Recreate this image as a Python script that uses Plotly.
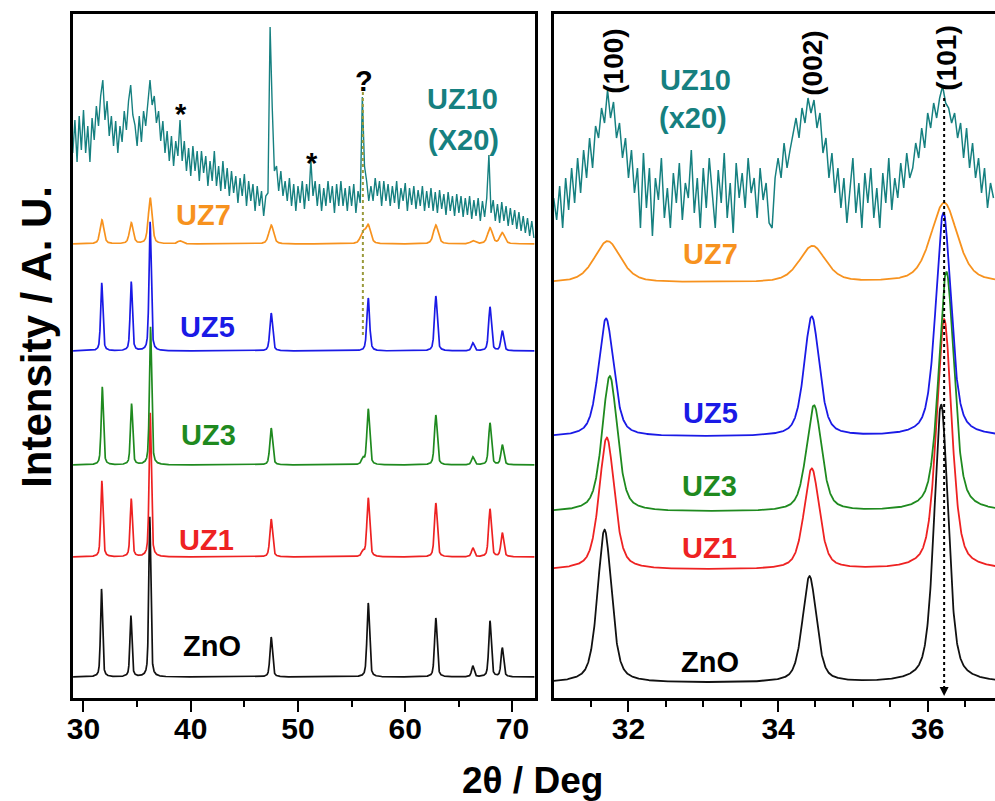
import numpy as np
import plotly.graph_objects as go

# ---------------- data ----------------
samples = ["ZnO", "UZ1", "UZ3", "UZ5", "UZ7"]
colors = {"ZnO": "#111111", "UZ1": "#ee2222", "UZ3": "#1f8a1f", "UZ5": "#1a1ae6",
          "UZ7": "#f7921e", "UZ10": "#168080"}

# main three reflections (100), (002), (101): positions per sample
pos_main = {
    "ZnO": [31.68, 34.42, 36.18],
    "UZ1": [31.71, 34.45, 36.22],
    "UZ3": [31.75, 34.48, 36.25],
    "UZ5": [31.70, 34.45, 36.21],
    "UZ7": [31.72, 34.46, 36.22],
}
# higher-angle reflections (102), (110), (103), (200), (112), (201)
pos_high = [47.50, 56.55, 62.85, 66.30, 67.90, 69.05]

# intensities (a.u.), main then high-angle
int_main = {
    "ZnO": [88, 61, 160],
    "UZ1": [76, 58, 144],
    "UZ3": [78, 61, 138],
    "UZ5": [68, 69, 129],
    "UZ7": [24, 21, 46],
}
int_high = {
    "ZnO": [40, 74, 59, 11, 56, 29],
    "UZ1": [38, 59, 54, 9, 48, 24],
    "UZ3": [37, 56, 50, 8, 42, 20],
    "UZ5": [38, 53, 55, 8, 44, 20],
    "UZ7": [19, 18, 19, 3, 16, 11],
}
# extra weak reflections: (position, intensity)
extra = {
    "ZnO": [],
    "UZ1": [(56.05, 5)],
    "UZ3": [(56.05, 6)],
    "UZ5": [],
    "UZ7": [(56.05, 11), (39.0, 3)],
}
fwhm = {"ZnO": 0.22, "UZ1": 0.24, "UZ3": 0.24, "UZ5": 0.24, "UZ7": 0.42}

# vertical offsets of each pattern
offset_left = {"ZnO": 21, "UZ1": 141, "UZ3": 233, "UZ5": 347, "UZ7": 454}
offset_right = {"ZnO": 15, "UZ1": 128, "UZ3": 186, "UZ5": 261, "UZ7": 415}
right_scale = 1.74

# UZ10 (x20) raw trace, wide range: 29.0 .. 72.0, step 0.2
uz10_wide_start, uz10_wide_step = 29.0, 0.2
uz10_wide = [
    545, 578, 536, 582, 548, 588, 545, 572, 536, 580,
    558, 592, 572, 602, 618, 578, 597, 562, 582, 552,
    577, 545, 572, 556, 587, 568, 597, 613, 583, 573,
    552, 582, 556, 587, 572, 592, 618, 593, 602, 575,
    587, 557, 577, 545, 567, 537, 562, 532, 557, 542,
    578, 537, 557, 527, 550, 522, 552, 527, 547, 517,
    547, 525, 542, 512, 537, 517, 547, 512, 532, 507,
    537, 509, 530, 502, 527, 505, 522, 495, 520, 502,
    524, 492, 517, 497, 514, 487, 512, 492, 507, 482,
    502, 505, 671, 590, 527, 532, 507, 527, 502, 517,
    497, 520, 492, 514, 487, 512, 495, 517, 489, 514,
    497, 538, 502, 517, 492, 514, 487, 510, 492, 517,
    495, 512, 485, 514, 492, 517, 492, 510, 487, 512,
    492, 514, 485, 507, 495, 601, 532, 517, 497, 512,
    497, 520, 502, 517, 492, 517, 497, 514, 492, 512,
    495, 517, 489, 510, 497, 515, 487, 510, 493, 512,
    489, 508, 492, 512, 487, 507, 490, 510, 487, 506,
    485, 508, 489, 504, 483, 506, 487, 502, 482, 504,
    485, 502, 481, 500, 483, 502, 479, 498, 482, 500,
    477, 497, 481, 500, 543, 485, 498, 477, 494, 475,
    496, 477, 492, 472, 490, 473, 488, 469, 486, 467,
    482, 465, 480, 462, 477, 460,
]
# UZ10 (x20) raw trace, zoom range: 31.00 .. 36.88, step 0.04
uz10_zoom_start, uz10_zoom_step = 31.0, 0.04
uz10_zoom = [
    500, 478, 512, 470, 520, 488, 530, 495,
    540, 505, 548, 520, 560, 530, 572,
    560, 590, 575, 608, 580, 596, 560,
    575, 540, 560, 520, 548, 505, 530,
    470, 545, 490, 530, 462, 520, 498, 540, 480, 510, 470, 525,
    495, 535, 478, 515, 500, 548, 485, 520, 470, 530, 490, 540,
    505, 470, 528, 495, 545, 480, 515, 465, 535, 500, 525, 490,
    540, 505, 520, 480, 530, 498, 515, 475, 470, 520,
    540, 520, 555, 530, 548, 565, 580,
    560, 590, 575, 600, 585, 598, 570,
    585, 545, 560, 520, 545, 505, 530,
    490, 520, 475, 505, 540, 485, 515, 470, 525, 495, 530, 480,
    510, 470, 525, 495, 540, 488, 520, 500, 535, 510, 545, 520,
    530, 555, 540, 570, 550, 585, 570,
    595, 580, 600, 612, 595, 590, 575,
    585, 560, 575, 540, 570, 530, 555,
    520, 540, 505, 530, 490, 515, 500,
]

x_ticks_left = [30, 40, 50, 60, 70]
x_ticks_right = [32, 34, 36]


# ---------------- helpers ----------------
def profile(x, c, h, w, eta=0.5):
    d = (x - c) / w
    return h * (eta / (1 + 4 * d * d) + (1 - eta) * np.exp(-4 * np.log(2) * d * d))


def pattern(x, s, scale=1.0, include_high=True):
    y = np.zeros_like(x)
    w = fwhm[s]
    for c, h in zip(pos_main[s], int_main[s]):
        y += profile(x, c, h * scale, w)
    if include_high:
        for c, h in zip(pos_high, int_high[s]):
            y += profile(x, c, h * scale, w * 1.25)
        for c, h in extra[s]:
            y += profile(x, c, h * scale, w * 1.25)
    return y


xl = np.arange(29.0, 72.06, 0.01)
xr = np.arange(31.0, 36.91, 0.004)

fig = go.Figure()

for s in samples:
    fig.add_trace(go.Scatter(x=xl, y=offset_left[s] + pattern(xl, s), mode="lines",
                             line=dict(color=colors[s], width=1.7), xaxis="x", yaxis="y",
                             showlegend=False, hoverinfo="skip"))
xw = uz10_wide_start + uz10_wide_step * np.arange(len(uz10_wide))
fig.add_trace(go.Scatter(x=xw, y=uz10_wide, mode="lines",
                         line=dict(color=colors["UZ10"], width=1.4), xaxis="x", yaxis="y",
                         showlegend=False, hoverinfo="skip"))

for s in samples:
    fig.add_trace(go.Scatter(x=xr, y=offset_right[s] + pattern(xr, s, right_scale, False),
                             mode="lines", line=dict(color=colors[s], width=1.8),
                             xaxis="x2", yaxis="y2", showlegend=False, hoverinfo="skip"))
xz = uz10_zoom_start + uz10_zoom_step * np.arange(len(uz10_zoom))
fig.add_trace(go.Scatter(x=xz, y=uz10_zoom, mode="lines",
                         line=dict(color=colors["UZ10"], width=1.5), xaxis="x2", yaxis="y2",
                         showlegend=False, hoverinfo="skip"))

FONT = "Liberation Sans"
ydom = [103 / 801, 787 / 801]

axis_common = dict(showgrid=False, zeroline=False, showline=True, linecolor="black",
                   linewidth=2.5, ticks="outside", ticklen=11, tickwidth=2, tickcolor="black",
                   ticklabelstandoff=-9,
                   tickfont=dict(family=FONT, size=30, color="black", weight="bold"))

fig.update_layout(
    width=995, height=801, margin=dict(l=0, r=0, t=0, b=0),
    paper_bgcolor="white", plot_bgcolor="white",
    xaxis=dict(domain=[67.5 / 995, 532 / 995], range=[29.03, 72.08], tickvals=x_ticks_left,
               mirror=True, anchor="y",
               minor=dict(tickvals=[35, 45, 55, 65], ticklen=6, tickwidth=2, ticks="outside",
                          tickcolor="black"),
               **axis_common),
    yaxis=dict(domain=ydom, range=[0, 684], showticklabels=False, ticks="", showgrid=False,
               zeroline=False, showline=True, linecolor="black", linewidth=2.5, mirror=True,
               anchor="x"),
    xaxis2=dict(domain=[551 / 995, 1.0], range=[31.0, 36.9], tickvals=x_ticks_right,
                mirror=True, anchor="y2",
                minor=dict(tickvals=[31.5, 32.5, 33, 33.5, 34.5, 35, 35.5, 36.5], ticklen=6,
                           tickwidth=2, ticks="outside", tickcolor="black"),
                **axis_common),
    yaxis2=dict(domain=ydom, range=[0, 684], showticklabels=False, ticks="", showgrid=False,
                zeroline=False, showline=True, linecolor="black", linewidth=2.5, mirror=False,
                anchor="x2"),
)

lab_font = lambda c, size=29: dict(family=FONT, size=size, color=c, weight="bold")
ann = []
# left panel labels
for txt, x, y, c in [("UZ10", 65.3, 599, colors["UZ10"]), ("(X20)", 65.4, 558, colors["UZ10"]),
                     ("UZ7", 41.2, 483, colors["UZ7"]), ("UZ5", 41.6, 371, colors["UZ5"]),
                     ("UZ3", 41.7, 263, colors["UZ3"]), ("UZ1", 41.5, 158, colors["UZ1"]),
                     ("ZnO", 42.0, 52, "black"), ("?", 56.14, 617, "black"),
                     ("*", 39.1, 584, "black"), ("*", 51.3, 535, "black")]:
    ann.append(dict(text=txt, x=x, y=y, xref="x", yref="y", showarrow=False,
                    font=lab_font(c), xanchor="center", yanchor="middle"))
# right panel labels
for txt, x, y, c in [("UZ10", 32.89, 618, colors["UZ10"]), ("(x20)", 32.86, 580, colors["UZ10"]),
                     ("UZ7", 33.10, 444, colors["UZ7"]), ("UZ5", 33.10, 285, colors["UZ5"]),
                     ("UZ3", 33.08, 212, colors["UZ3"]), ("UZ1", 33.08, 150, colors["UZ1"]),
                     ("ZnO", 33.09, 36, "black")]:
    ann.append(dict(text=txt, x=x, y=y, xref="x2", yref="y2", showarrow=False,
                    font=lab_font(c), xanchor="center", yanchor="middle"))
for txt, x, y in [("(100)", 31.79, 637), ("(002)", 34.45, 635), ("(101)", 36.24, 640)]:
    ann.append(dict(text=txt, x=x, y=y, xref="x2", yref="y2", showarrow=False, textangle=-90,
                    font=lab_font("black", 28), xanchor="center", yanchor="middle"))
# arrow head at bottom of dotted line
ann.append(dict(text="", x=36.22, y=2, xref="x2", yref="y2", ax=0, ay=-9, showarrow=True,
                arrowhead=2, arrowsize=1.2, arrowwidth=1.5, arrowcolor="black"))
# axis titles
ann.append(dict(text="2θ / Deg", x=530 / 995, y=(801 - 780) / 801, xref="paper", yref="paper",
                showarrow=False, font=dict(family=FONT, size=37, color="black", weight="bold"),
                xanchor="center", yanchor="middle"))
ann.append(dict(text="Intensity / A. U.", x=30 / 995, y=(801 - 337) / 801, xref="paper",
                yref="paper", showarrow=False, textangle=-90,
                font=dict(family=FONT, size=42, color="black", weight="bold"),
                xanchor="center", yanchor="middle"))
fig.update_layout(annotations=ann)

fig.update_layout(shapes=[
    dict(type="line", xref="x", yref="y", x0=56.05, x1=56.05, y0=606, y1=361,
         line=dict(color="#9a9a3c", width=2, dash="dot")),
    dict(type="line", xref="x2", yref="y2", x0=36.22, x1=36.22, y0=600, y1=8,
         line=dict(color="black", width=2, dash="dot")),
])

fig.write_html("out.html")
